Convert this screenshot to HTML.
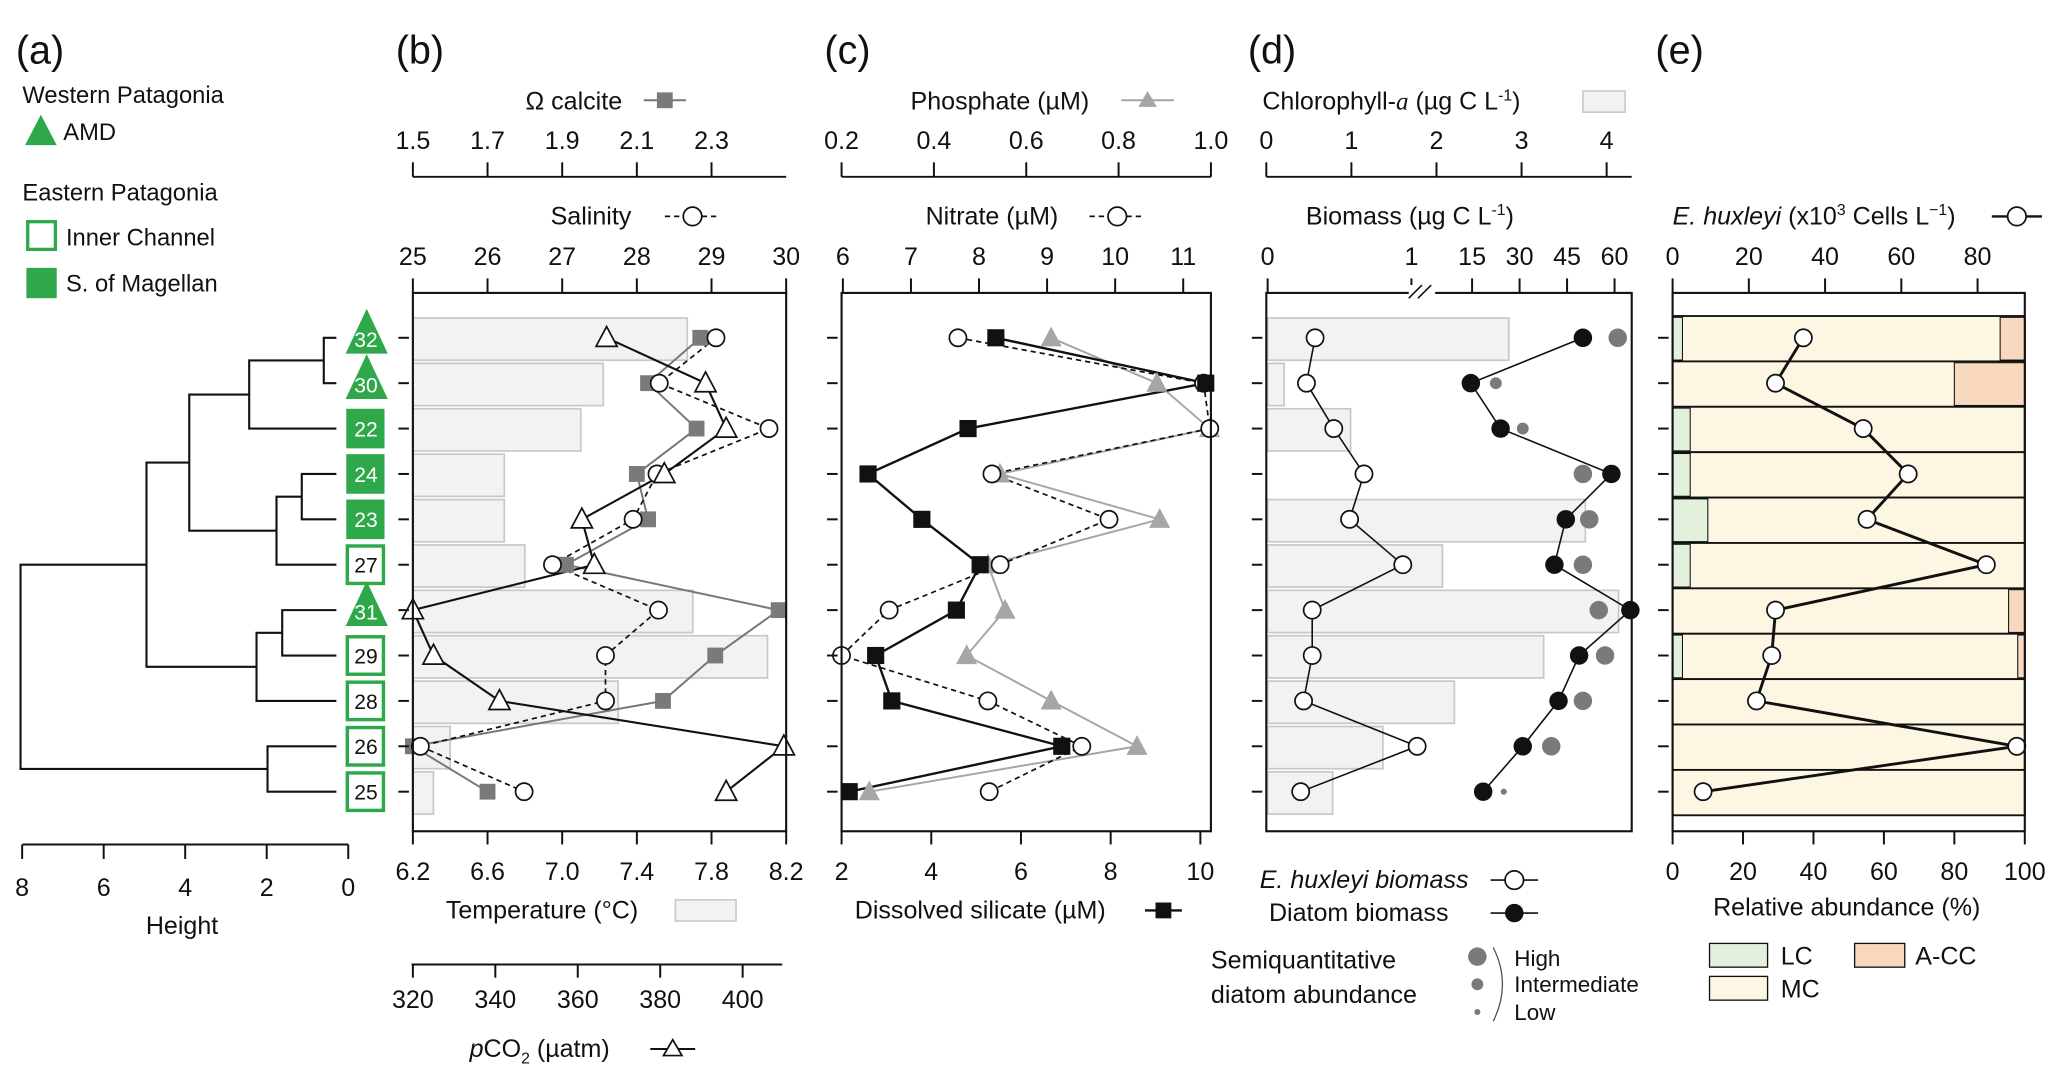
<!DOCTYPE html>
<html><head><meta charset="utf-8"><style>
html,body{margin:0;padding:0;background:#fff;}
svg{display:block;font-family:"Liberation Sans",sans-serif;}
text{fill:#111;}
</style></head><body>
<svg id="fig" width="2067" height="1078" viewBox="0 0 1567 817" preserveAspectRatio="none" xmlns="http://www.w3.org/2000/svg">
<g id="static" font-size="19">
<text x="12" y="48" font-size="30">(a)</text>
<text x="300" y="48" font-size="30">(b)</text>
<text x="625" y="48" font-size="30">(c)</text>
<text x="946" y="48" font-size="30">(d)</text>
<text x="1255" y="48" font-size="30">(e)</text>
<g font-size="18">
<text x="17" y="78">Western Patagonia</text>
<polygon points="31,87 43,110 19,110" fill="#2ea84a"/>
<text x="48" y="106">AMD</text>
<text x="17" y="152">Eastern Patagonia</text>
<rect x="21" y="168" width="21" height="21" fill="#fff" stroke="#2ea84a" stroke-width="2.5"/>
<text x="50" y="186">Inner Channel</text>
<rect x="20" y="203" width="23" height="23" fill="#2ea84a"/>
<text x="50" y="221">S. of Magellan</text>
</g>
<g>
<line x1="17" y1="640" x2="264" y2="640" stroke="#111" stroke-width="1.5"/>
<text x="138" y="708" text-anchor="middle">Height</text>
</g>
<g><text x="435" y="83" text-anchor="middle">Ω calcite</text>
<line x1="488" y1="76" x2="520" y2="76" stroke="#777" stroke-width="1.5"/><rect x="498" y="70" width="12" height="12" fill="#7a7a7a"/></g>
<g><text x="448" y="170" text-anchor="middle">Salinity</text>
<line x1="504" y1="164" x2="546" y2="164" stroke="#111" stroke-width="1.3" stroke-dasharray="4,3"/><circle cx="525" cy="164" r="7" fill="#fff" stroke="#111" stroke-width="1.3"/></g>
<g><text x="758" y="83" text-anchor="middle">Phosphate (µM)</text>
<line x1="850" y1="76" x2="890" y2="76" stroke="#a6a6a6" stroke-width="1.5"/><polygon points="870,69 877,81 863,81" fill="#a6a6a6"/></g>
<g><text x="752" y="170" text-anchor="middle">Nitrate (µM)</text>
<line x1="826" y1="164" x2="868" y2="164" stroke="#111" stroke-width="1.3" stroke-dasharray="4,3"/><circle cx="847" cy="164" r="7" fill="#fff" stroke="#111" stroke-width="1.3"/></g>
<g><text x="957" y="83">Chlorophyll-<tspan font-family="Liberation Serif" font-style="italic">a</tspan> (µg C L<tspan font-size="12" dy="-7">-1</tspan><tspan dy="7">)</tspan></text>
<rect x="1200" y="69" width="32" height="16" fill="#f2f2f2" stroke="#c8c8c8" stroke-width="1.2"/></g>
<g><text x="990" y="170">Biomass (µg C L<tspan font-size="12" dy="-7">-1</tspan><tspan dy="7">)</tspan></text></g>
<g><text x="1268" y="170"><tspan font-style="italic">E. huxleyi</tspan> (x10<tspan font-size="12" dy="-7">3</tspan><tspan dy="7"> Cells L</tspan><tspan font-size="12" dy="-7">−1</tspan><tspan dy="7">)</tspan></text>
<line x1="1510" y1="164" x2="1548" y2="164" stroke="#111" stroke-width="1.8"/><circle cx="1529" cy="164" r="7" fill="#fff" stroke="#111" stroke-width="1.3"/></g>
<g><text x="338" y="696">Temperature (°C)</text>
<rect x="512" y="682" width="46" height="16" fill="#f2f2f2" stroke="#c8c8c8" stroke-width="1.2"/></g>
<g><text x="356" y="801"><tspan font-style="italic">p</tspan>CO<tspan font-size="12" dy="5">2</tspan><tspan dy="-5"> (µatm)</tspan></text>
<line x1="493" y1="795" x2="527" y2="795" stroke="#111" stroke-width="1.5"/><polygon points="510,788 517,800 503,800" fill="#fff" stroke="#111" stroke-width="1.3"/></g>
<g><text x="648" y="696">Dissolved silicate (µM)</text>
<line x1="868" y1="690" x2="896" y2="690" stroke="#111" stroke-width="1.8"/><rect x="876" y="684" width="12" height="12" fill="#111"/></g>
<g>
<text x="955" y="673" font-style="italic">E. huxleyi biomass</text>
<line x1="1130" y1="667" x2="1166" y2="667" stroke="#111" stroke-width="1.2"/><circle cx="1148" cy="667" r="7" fill="#fff" stroke="#111" stroke-width="1.3"/>
<text x="962" y="698">Diatom biomass</text>
<line x1="1130" y1="692" x2="1166" y2="692" stroke="#111" stroke-width="1.2"/><circle cx="1148" cy="692" r="7" fill="#111"/>
<text x="918" y="734">Semiquantitative</text>
<text x="918" y="760">diatom abundance</text>
<circle cx="1120" cy="725" r="7" fill="#7a7a7a"/><circle cx="1120" cy="746" r="4.5" fill="#7a7a7a"/><circle cx="1120" cy="767" r="2.3" fill="#7a7a7a"/>
<path d="M1132,718 Q1146,746 1132,774" fill="none" stroke="#555" stroke-width="1"/>
<text x="1148" y="732" font-size="17">High</text><text x="1148" y="752" font-size="17">Intermediate</text><text x="1148" y="773" font-size="17">Low</text>
</g>
<text x="1400" y="694" text-anchor="middle">Relative abundance (%)</text>
<g>
<rect x="1296" y="715" width="44" height="18" fill="#e3f1dc" stroke="#111" stroke-width="1"/><text x="1350" y="731">LC</text>
<rect x="1406" y="715" width="38" height="18" fill="#f8d9c0" stroke="#111" stroke-width="1"/><text x="1452" y="731">A-CC</text>
<rect x="1296" y="740" width="44" height="18" fill="#fdf6e3" stroke="#111" stroke-width="1"/><text x="1350" y="756">MC</text>
</g>
</g>
<g id="dyn" font-size="19"></g>
</svg>
<script>
// ---- data ----
const stations=['32','30','22','24','23','27','31','29','28','26','25'];
const stationType=['amd','amd','mag','mag','mag','inner','amd','inner','inner','inner','inner'];
const temperature=[7.67,7.22,7.10,6.69,6.69,6.80,7.70,8.10,7.30,6.40,6.31];
const salinity=[29.06,28.30,29.77,28.27,27.95,26.87,28.29,27.58,27.58,25.1,26.49];
const omegaCalcite=[2.27,2.13,2.26,2.10,2.13,1.91,2.48,2.31,2.17,1.50,1.70];
const pco2=[367,391,396,381,361,364,320,325,341,410,396];
const nitrate=[7.69,11.3,11.39,8.19,9.91,8.31,6.68,5.98,8.13,9.51,8.15];
const silicate=[5.44,10.12,4.82,2.59,3.79,5.09,4.56,2.76,3.12,6.91,2.17];
const phosphate=[0.654,0.883,0.997,0.543,0.889,0.517,0.554,0.471,0.654,0.840,0.26];
const chlorophyll=[2.85,0.21,0.99,0,3.75,2.07,4.14,3.26,2.21,1.37,0.78];
const ehuxBiomass=[0.33,0.27,0.46,0.67,0.57,0.94,0.31,0.31,0.25,1.04,0.23];
const diatomBiomass=[50,14.6,24,59,44.6,41,65,48.8,42.3,31,18.5];
const semiPos=[61,22.5,31,50,52,50,55,57,50,40,25];
const semiLevel=[3,2,2,3,3,3,3,3,3,3,1];
const lcPct=[2.8,0,5,5,10,5,0,2.8,0,0,0];
const accPct=[7,20,0,0,0,0,4.6,2,0,0,0];
const ehuxCells=[34.3,27,50,61.8,51,82.3,27,26,22,90.3,8];
const heightTicks=[8,6,4,2,0];
const omegaTicks=[1.5,1.7,1.9,2.1,2.3];
const salinityTicks=[25,26,27,28,29,30];
const tempTicks=[6.2,6.6,7.0,7.4,7.8,8.2];
const pco2Ticks=[320,340,360,380,400];
const phosTicks=[0.2,0.4,0.6,0.8,1.0];
const nitrateTicks=[6,7,8,9,10,11];
const silTicks=[2,4,6,8,10];
const chlTicks=[0,1,2,3,4];
const bioTicks=[0,1,15,30,45,60];
const cellTicks=[0,20,40,60,80];
const pctTicks=[0,20,40,60,80,100];
const merges=[[0,1,0.6],[11,2,2.43],[3,4,1.14],[13,5,1.76],[12,14,3.9],[6,7,1.62],[16,8,2.25],[15,17,4.95],[9,10,1.98],[18,19,8.04]];

// ---- scales ----
const NS='http://www.w3.org/2000/svg';
const G=document.getElementById('dyn');
const yRow=i=>256+i*34.4;
const FT=222,FB=630;
const P={b:[313,596],c:[638,918],d:[960,1237],e:[1268,1535]};
const xTemp=v=>313+(v-6.2)/2*283, xSal=v=>313+(v-25)/5*283, xOm=v=>313+(v-1.5)*283, xPco2=v=>313+(v-320)*3.125;
const xNit=v=>639+(v-6)*51.6, xSil=v=>638+(v-2)*34, xPhos=v=>638+(v-0.2)/0.8*280;
const xChl=v=>960+v*64.5, xBio=v=>v<=1.2?961+v*109:1080+v*2.4;
const xCell=v=>1268+v*2.89, xPct=v=>1268+v*2.67;
const xHeight=h=>264-h*30.9;

function el(tag,attrs,parent){const e=document.createElementNS(NS,tag);for(const k in attrs)e.setAttribute(k,attrs[k]);(parent||G).appendChild(e);return e;}
function txt(x,y,s,anchor,parent){const t=el('text',{x:x,y:y,'text-anchor':anchor||'middle'},parent);t.textContent=s;return t;}

function topAxis(name,ticks,fx,yLine,x0,x1,withLine,labels){
  const g=el('g',{});
  
  
  if(withLine) el('line',{x1:x0,y1:yLine,x2:x1,y2:yLine,stroke:'#111','stroke-width':1.5},g);
  ticks.forEach((v,i)=>{const x=fx(v);el('line',{x1:x,y1:yLine,x2:x,y2:yLine-11,stroke:'#111','stroke-width':1.5},g);txt(x,yLine-21,labels?labels[i]:String(v),'middle',g);});
}
function bottomAxis(name,ticks,fx,yLine,x0,x1,withLine,labels,off){
  const g=el('g',{});
  
  
  if(withLine) el('line',{x1:x0,y1:yLine,x2:x1,y2:yLine,stroke:'#111','stroke-width':1.5},g);
  ticks.forEach((v,i)=>{const x=fx(v);el('line',{x1:x,y1:yLine,x2:x,y2:yLine+10,stroke:'#111','stroke-width':1.5},g);txt(x,yLine+(off||37),labels?labels[i]:String(v),'middle',g);});
}
function frame(name,k){
  const [a,b]=P[k];
  const r=el('rect',{x:a,y:FT,width:b-a,height:FB-FT,fill:'none',stroke:'#111','stroke-width':1.6});
  
  
  stations.forEach((s,i)=>el('line',{x1:a-11,y1:yRow(i),x2:a-3,y2:yRow(i),stroke:'#111','stroke-width':1.5}));
}
function polyline(name,xs,color,dash,w){
  const pts=xs.map((x,i)=>x+','+yRow(i)).join(' ');
  const p=el('polyline',{points:pts,fill:'none',stroke:color,'stroke-width':w||1.5});
  if(dash) p.setAttribute('stroke-dasharray',dash);
  
  
}
function marker(shape,x,y,fill,stroke,name,size){
  let m;
  const s=size||6.5;
  if(shape==='c') m=el('circle',{cx:x,cy:y,r:s,fill:fill,stroke:stroke||'none','stroke-width':1.3});
  else if(shape==='s') m=el('rect',{x:x-s,y:y-s,width:2*s,height:2*s,fill:fill,stroke:stroke||'none','stroke-width':1.3});
  else m=el('polygon',{points:`${x},${y-s-1.5} ${x+s+1},${y+s-0.5} ${x-s-1},${y+s-0.5}`,fill:fill,stroke:stroke||'none','stroke-width':1.3});
  
  
}

// ---- dendrogram ----
const nodeX=[],nodeY=[];
stations.forEach((s,i)=>{nodeX.push(255);nodeY.push(yRow(i));});
merges.forEach(m=>{
  const [a,b,h]=m;const x=xHeight(h);
  const d=el('path',{d:`M${nodeX[a]},${nodeY[a]} H${x} V${nodeY[b]} H${nodeX[b]}`,fill:'none',stroke:'#111','stroke-width':1.6});
  
  
  nodeX.push(x);nodeY.push((nodeY[a]+nodeY[b])/2);
});
heightTicks.forEach(h=>{const x=xHeight(h);el('line',{x1:x,y1:640,x2:x,y2:651,stroke:'#111','stroke-width':1.5});txt(x,679,String(h));});
stations.forEach((s,i)=>{
  const y=yRow(i);const t=stationType[i];
  const g=el('g',{});
  
  
  if(t==='amd'){el('polygon',{points:`278,${y-22} 294,${y+12} 262,${y+12}`,fill:'#2ea84a'},g);}
  else if(t==='mag'){el('rect',{x:262,y:y-15.5,width:30,height:31,fill:'#2ea84a',stroke:'#fff','stroke-width':1},g);}
  else {el('rect',{x:263.5,y:y-14,width:27,height:28,fill:'#fff',stroke:'#2ea84a','stroke-width':3},g);el('rect',{x:265,y:y-12.5,width:24,height:25,fill:'none',stroke:'#fff','stroke-width':0.8},g);}
  const tt=txt(277.5,y+(t==='amd'?7:6),s,'middle',g);
  tt.setAttribute('font-size','16');
  tt.style.fill=t==='inner'?'#111':'#fff';
});

// ---- panel b ----
stations.forEach((s,i)=>{const r=el('rect',{x:313,y:yRow(i)-15,width:xTemp(temperature[i])-313,height:32,fill:'#f2f2f2',stroke:'#c8c8c8','stroke-width':1.3});
  });
polyline('omega-calcite-line',omegaCalcite.map(xOm),'#777');
polyline('pco2-line',pco2.map(xPco2),'#111',null,1.6);
polyline('salinity-line',salinity.map(xSal),'#111','4,3',1.3);
omegaCalcite.forEach((v,i)=>marker('s',xOm(v),yRow(i),'#7a7a7a',null,'omega-calcite-point',6));
salinity.forEach((v,i)=>marker('c',xSal(v),yRow(i),'#fff','#111','salinity-point'));
pco2.forEach((v,i)=>marker('t',xPco2(v),yRow(i),'#fff','#111','pco2-point',7));
frame('panel-b-frame','b');
topAxis('omega-calcite-axis',omegaTicks,xOm,134,313,596,true);
topAxis('salinity-axis',salinityTicks,xSal,FT,313,596,false);
bottomAxis('temperature-axis',tempTicks,xTemp,FB,313,596,false,tempTicks.map(v=>v.toFixed(1)));
bottomAxis('pco2-axis',pco2Ticks,xPco2,731,312,593,true,null,33);

// ---- panel c ----
polyline('phosphate-line',phosphate.map(xPhos),'#a6a6a6');
polyline('nitrate-line',nitrate.map(xNit),'#111','4,3',1.3);
polyline('silicate-line',silicate.map(xSil),'#111',null,1.8);
phosphate.forEach((v,i)=>marker('t',xPhos(v),yRow(i),'#a6a6a6',null,'phosphate-point',7));
nitrate.forEach((v,i)=>marker('c',xNit(v),yRow(i),'#fff','#111','nitrate-point'));
silicate.forEach((v,i)=>marker('s',xSil(v),yRow(i),'#111',null,'silicate-point',6.5));
frame('panel-c-frame','c');
topAxis('phosphate-axis',phosTicks,xPhos,134,638,918,true,phosTicks.map(v=>v.toFixed(1)));
topAxis('nitrate-axis',nitrateTicks,xNit,FT,638,918,false);
bottomAxis('silicate-axis',silTicks,xSil,FB,638,918,false);

// ---- panel d ----
stations.forEach((s,i)=>{if(chlorophyll[i]>0){const r=el('rect',{x:961,y:yRow(i)-15,width:xChl(chlorophyll[i])-961,height:32,fill:'#f2f2f2',stroke:'#c8c8c8','stroke-width':1.3});
  }});
polyline('ehux-biomass-line',ehuxBiomass.map(xBio),'#111',null,1.2);
polyline('diatom-biomass-line',diatomBiomass.map(xBio),'#111',null,1.2);
semiPos.forEach((v,i)=>marker('c',xBio(v),yRow(i),'#7a7a7a',null,'semiquantitative-diatom-dot',[0,2.3,4.5,7][semiLevel[i]]));
ehuxBiomass.forEach((v,i)=>marker('c',xBio(v),yRow(i),'#fff','#111','ehux-biomass-point'));
diatomBiomass.forEach((v,i)=>marker('c',xBio(v),yRow(i),'#111',null,'diatom-biomass-point',7));
frame('panel-d-frame','d');
topAxis('chlorophyll-axis',chlTicks,xChl,134,960,1237,true);
topAxis('biomass-axis',bioTicks,xBio,FT,960,1237,false);
{const b=el('g',{});
 el('rect',{x:1068,y:216,width:20,height:10,fill:'#fff'},b);
 el('line',{x1:1068,y1:226,x2:1078,y2:216,stroke:'#111','stroke-width':1.2},b);
 el('line',{x1:1075,y1:226,x2:1085,y2:216,stroke:'#111','stroke-width':1.2},b);}

// ---- panel e ----
stations.forEach((s,i)=>{
  const y0=yRow(i)-16.5,h=34.4;
  const mc=el('rect',{x:1268,y:y0,width:267,height:h,fill:'#fdf6e3',stroke:'#111','stroke-width':1.4});
  
  if(lcPct[i]>0){const r=el('rect',{x:1268,y:y0+1,width:xPct(lcPct[i])-1268,height:h-2,fill:'#e3f1dc',stroke:'#111','stroke-width':0.8});
    }
  if(accPct[i]>0){const r=el('rect',{x:xPct(100-accPct[i]),y:y0+1,width:1535-xPct(100-accPct[i]),height:h-2,fill:'#f8d9c0',stroke:'#111','stroke-width':0.8});
    }
});
polyline('ehux-cells-line',ehuxCells.map(xCell),'#111',null,2.2);
ehuxCells.forEach((v,i)=>marker('c',xCell(v),yRow(i),'#fff','#111','ehux-cells-point'));
frame('panel-e-frame','e');
topAxis('ehux-cells-axis',cellTicks,xCell,FT,1268,1535,false);
bottomAxis('relative-abundance-axis',pctTicks,xPct,FB,1268,1535,false);
</script>
</body></html>
